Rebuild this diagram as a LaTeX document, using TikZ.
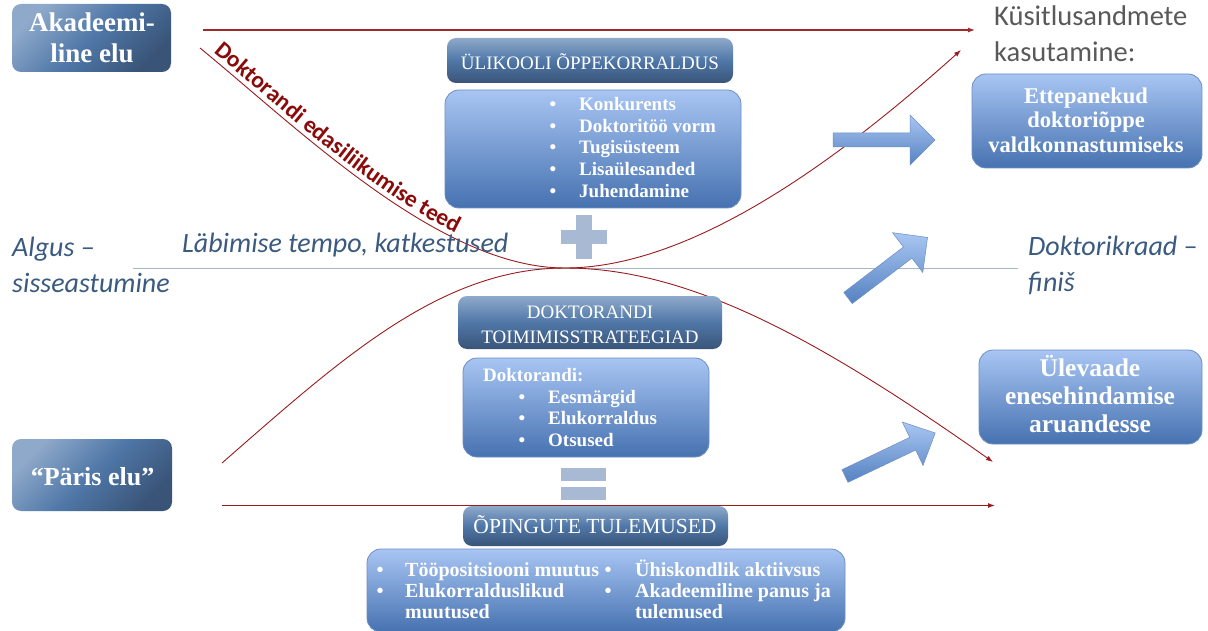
\documentclass[tikz,border=0pt]{standalone}
\usepackage{fontspec}
\setmainfont{Liberation Serif}
\newfontfamily\calfont{Carlito}
\usetikzlibrary{arrows.meta,decorations.text}
\definecolor{lnred}{HTML}{A3292B}
\definecolor{crvred}{HTML}{9A1C1E}
\definecolor{txtred}{HTML}{8B0A0A}
\definecolor{dkA}{HTML}{8EA9CA}
\definecolor{dkB}{HTML}{4F77A7}
\definecolor{dkC}{HTML}{3A5478}
\definecolor{ltA}{HTML}{A8C5F3}
\definecolor{ltB}{HTML}{4672B0}
\definecolor{ltBorder}{HTML}{6D8FC3}
\definecolor{arrA}{HTML}{A9C6F2}
\definecolor{arrB}{HTML}{5582C2}
\definecolor{signcol}{HTML}{A7B9D3}
\definecolor{ittxt}{HTML}{3A5A80}
\definecolor{graytxt}{HTML}{595959}
\definecolor{axisline}{HTML}{A5B5CB}
\newcommand\fsz[2]{\fontsize{#1}{#2}\selectfont}
\newcommand\curvefont{\calfont\bfseries\fsz{23.5}{24}\color{txtred}}
\begin{document}
\begin{tikzpicture}[x=1pt,y=-1pt,
  darkbox/.style={rounded corners=9pt, inner sep=0pt, draw=none, top color=dkA, bottom color=dkC, middle color=dkB},
  sidebox/.style={darkbox, shading angle=45},
  lightbox/.style={rounded corners=14pt, inner sep=0pt, draw=ltBorder, line width=0.8pt, top color=ltA, bottom color=ltB},
  boxtxt/.style={anchor=base, inner sep=0pt, text=white},
  lsttxt/.style={anchor=base west, inner sep=0pt, text=white, font=\bfseries\fsz{19}{21}},
  bultxt/.style={anchor=base, inner sep=0pt, text=white, font=\bfseries\fsz{19}{21}},
  hdrtxt/.style={anchor=base, inner sep=0pt, text=white, font=\fsz{19}{24}},
  ittext/.style={anchor=base west, inner sep=0pt, text=ittxt, font=\calfont\itshape\fsz{28}{30}},
  redln/.style={draw=lnred, line width=1.2pt, -{Latex[length=7pt,width=5pt]}},
  redcrv/.style={draw=crvred, line width=0.9pt},
  signbar/.style={fill=signcol, draw=none, inner sep=0pt},
  blockarrow/.style={draw=ltBorder, line width=0.5pt, top color=arrA, bottom color=arrB}
]
\useasboundingbox (0,0) rectangle (1208,631);
\fill[white] (0,0) rectangle (1208,631);

% axis line
\coordinate (axL) at (133,269);
\coordinate (axR) at (1018,269);
\draw[axisline, line width=1pt] (axL) -- (axR);

% left boxes
\node[sidebox, minimum width=159, minimum height=68] (akad) at (91.5,38) {};
\node[boxtxt, font=\bfseries\fsz{27}{31}] (akadt1) at (92,32) {Akadeemi-};
\node[boxtxt, font=\bfseries\fsz{27}{31}] (akadt2) at (92,63) {line elu};
\node[sidebox, minimum width=160, minimum height=72] (paris) at (92,475) {};
\node[boxtxt, font=\bfseries\fsz{26}{30}] (parist) at (92.5,485) {“Päris elu”};

% red lines and curves
\coordinate (topS) at (203,30);
\coordinate (topE) at (975,30);
\draw[redln] (topS) -- (topE);
\coordinate (botS) at (222,505.5);
\coordinate (botE) at (995,505.5);
\draw[redln, line width=1.1pt, draw=crvred] (botS) -- (botE);

\coordinate (c1S) at (200,48);
\coordinate (mid) at (565,268);
\coordinate (c1E) at (961,50);
\draw[redcrv, -{Latex[length=7pt,width=5pt]}] (c1S) .. controls (300,130) and (440,268) .. (mid)
  .. controls (700,268) and (855,145) .. (c1E);
\coordinate (c2S) at (222,463);
\coordinate (c2E) at (993,462);
\draw[redcrv, -{Latex[length=7pt,width=5pt]}] (c2S) .. controls (340,360) and (440,268) .. (mid)
  .. controls (690,268) and (820,340) .. (c2E);
\path[decorate, decoration={text along path, text align={left indent=13pt}, raise=5pt,
  text={|\curvefont|Doktorandi edasiliikumise teed}}]
  (c1S) .. controls (300,130) and (440,268) .. (mid);

% top centre block
\node[darkbox, minimum width=286, minimum height=45] (hdr1) at (590,60.5) {};
\node[hdrtxt] (hdr1t) at (590,70) {ÜLIKOOLI ÕPPEKORRALDUS};
\node[lightbox, minimum width=296, minimum height=118] (box1) at (593,149) {};
\node[bultxt] (b11) at (553,111) {•};
\node[lsttxt] (l11) at (579,111) {Konkurents};
\node[bultxt] (b12) at (553,133) {•};
\node[lsttxt] (l12) at (579,133) {Doktoritöö vorm};
\node[bultxt] (b13) at (553,154) {•};
\node[lsttxt] (l13) at (579,154) {Tugisüsteem};
\node[bultxt] (b14) at (553,176) {•};
\node[lsttxt] (l14) at (579,176) {Lisaülesanded};
\node[bultxt] (b15) at (553,198) {•};
\node[lsttxt] (l15) at (579,198) {Juhendamine};

% plus sign
\node[signbar, minimum width=16, minimum height=44] (plusv) at (584,237) {};
\node[signbar, minimum width=46, minimum height=14] (plush) at (584,237) {};

% middle block
\node[darkbox, minimum width=264, minimum height=53] (hdr2) at (590,322.5) {};
\node[hdrtxt] (hdr2a) at (590,319) {DOKTORANDI};
\node[hdrtxt] (hdr2b) at (590,343) {TOIMIMISSTRATEEGIAD};
\node[lightbox, minimum width=246, minimum height=99] (box2) at (586,407.5) {};
\node[lsttxt] (l20) at (483,381) {Doktorandi:};
\node[bultxt] (b21) at (522,403) {•};
\node[lsttxt] (l21) at (548,403) {Eesmärgid};
\node[bultxt] (b22) at (522,424) {•};
\node[lsttxt] (l22) at (548,424) {Elukorraldus};
\node[bultxt] (b23) at (522,446) {•};
\node[lsttxt] (l23) at (548,446) {Otsused};

% equals sign
\node[signbar, minimum width=45, minimum height=13] (eq1) at (583.5,474.5) {};
\node[signbar, minimum width=45, minimum height=13] (eq2) at (583.5,493.5) {};

% bottom block
\node[darkbox, minimum width=265, minimum height=40] (hdr3) at (595.5,526) {};
\node[hdrtxt, font=\fsz{21.5}{24}] (hdr3t) at (595,533) {ÕPINGUTE TULEMUSED};
\node[lightbox, minimum width=478, minimum height=83] (box3) at (606,590.5) {};
\node[bultxt, font=\bfseries\fsz{20}{21}] (b31) at (380,576) {•};
\node[lsttxt, font=\bfseries\fsz{20}{21}] (l31) at (405,576) {Tööpositsiooni muutus};
\node[bultxt, font=\bfseries\fsz{20}{21}] (b32) at (380,597) {•};
\node[lsttxt, font=\bfseries\fsz{20}{21}] (l32) at (405,597) {Elukorralduslikud};
\node[lsttxt, font=\bfseries\fsz{20}{21}] (l33) at (405,618) {muutused};
\node[bultxt, font=\bfseries\fsz{20}{21}] (b34) at (608,576) {•};
\node[lsttxt, font=\bfseries\fsz{20}{21}] (l34) at (635,576) {Ühiskondlik aktiivsus};
\node[bultxt, font=\bfseries\fsz{20}{21}] (b35) at (608,597) {•};
\node[lsttxt, font=\bfseries\fsz{20}{21}] (l35) at (635,597) {Akadeemiline panus ja};
\node[lsttxt, font=\bfseries\fsz{20}{21}] (l36) at (635,618) {tulemused};

% italic labels
\node[ittext] (alg1) at (12,257) {Algus –};
\node[ittext] (alg2) at (12,293) {sisseastumine};
\node[ittext] (labi) at (182,253) {Läbimise tempo, katkestused};
\node[ittext] (dok1) at (1028,255) {Doktorikraad –};
\node[ittext] (dok2) at (1028,291) {finiš};

% right side
\node[anchor=base west, inner sep=0pt, text=graytxt, font=\calfont\fsz{28.5}{30}] (kus1) at (994,26) {Küsitlusandmete};
\node[anchor=base west, inner sep=0pt, text=graytxt, font=\calfont\fsz{28.5}{30}] (kus2) at (994,62) {kasutamine:};
\node[lightbox, minimum width=230, minimum height=94] (ette) at (1087,121) {};
\node[boxtxt, font=\bfseries\fsz{22.5}{25}] (ette1) at (1086,104) {Ettepanekud};
\node[boxtxt, font=\bfseries\fsz{22.5}{25}] (ette2) at (1086,128) {doktoriõppe};
\node[boxtxt, font=\bfseries\fsz{22.5}{25}] (ette3) at (1086,153) {valdkonnastumiseks};
\node[lightbox, minimum width=223, minimum height=94] (ulev) at (1090.5,397) {};
\node[boxtxt, font=\bfseries\fsz{25.5}{28}] (ulev1) at (1090,376) {Ülevaade};
\node[boxtxt, font=\bfseries\fsz{25.5}{28}] (ulev2) at (1090,404) {enesehindamise};
\node[boxtxt, font=\bfseries\fsz{25.5}{28}] (ulev3) at (1090,432) {aruandesse};

% block arrows
\begin{scope}[shift={(833,140)}]
  \path[blockarrow] (0,-7) -- (77,-7) -- (77,-25) -- (102,0) -- (77,25) -- (77,7) -- (0,7) -- cycle;
\end{scope}
\begin{scope}[shift={(848,298)}, rotate=37.3]
  \path[blockarrow] (0,-7) -- (75,-7) -- (75,-25) -- (100,0) -- (75,25) -- (75,7) -- (0,7) -- cycle;
\end{scope}
\begin{scope}[shift={(845,476)}, rotate=25.5]
  \path[blockarrow] (0,-7) -- (75,-7) -- (75,-24) -- (100,0) -- (75,24) -- (75,7) -- (0,7) -- cycle;
\end{scope}
\end{tikzpicture}
\end{document}
